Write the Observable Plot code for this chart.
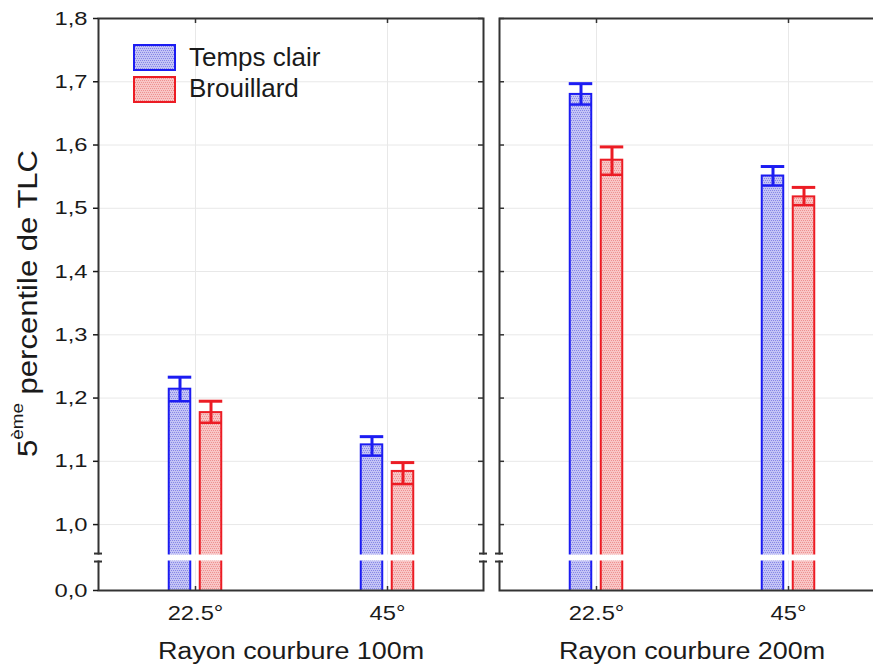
<!DOCTYPE html>
<html><head><meta charset="utf-8">
<script src="https://cdn.jsdelivr.net/npm/d3@7"></script>
<script src="https://cdn.jsdelivr.net/npm/@observablehq/plot@0.6"></script>
<style>
html,body{margin:0;padding:0;background:#fff;overflow:hidden;}
#chart{width:873px;height:667px;overflow:hidden;position:relative;}
#chart svg{max-width:none !important;}
</style></head><body>
<svg width="0" height="0" style="position:absolute">
<defs>
<pattern id="hatchBlue" width="4" height="4" patternUnits="userSpaceOnUse">
<rect width="4" height="4" fill="#c4c4f5"/>
<rect x="0" y="0" width="1" height="1" fill="#8686e6"/>
<rect x="2" y="0" width="1" height="1" fill="#8686e6"/>
<rect x="1" y="2" width="1" height="1" fill="#8686e6"/>
<rect x="3" y="2" width="1" height="1" fill="#8686e6"/>
</pattern>
<pattern id="hatchRed" width="4" height="4" patternUnits="userSpaceOnUse">
<rect width="4" height="4" fill="#f8c6c6"/>
<rect x="0" y="0" width="1" height="1" fill="#ee9090"/>
<rect x="2" y="0" width="1" height="1" fill="#ee9090"/>
<rect x="1" y="2" width="1" height="1" fill="#ee9090"/>
<rect x="3" y="2" width="1" height="1" fill="#ee9090"/>
</pattern>
</defs></svg>
<div id="chart"></div>
<script>
// ---- data ----
const radii = ["Rayon courbure 100m", "Rayon courbure 200m"];
const angles = ["22.5°", "45°"];
const seriesNames = ["Temps clair", "Brouillard"];
const seriesStroke = ["#1c1cf2", "#ec1c24"];
const seriesFill = ["url(#hatchBlue)", "url(#hatchRed)"];
// order of cells: 100m 22.5°, 100m 45°, 200m 22.5°, 200m 45°
const clairBoxTop = [1.214, 1.126, 1.680, 1.551];
const clairBoxLow = [1.195, 1.109, 1.664, 1.536];
const clairWhiskerHi = [1.233, 1.139, 1.697, 1.566];
const brouBoxTop = [1.177, 1.084, 1.576, 1.518];
const brouBoxLow = [1.161, 1.064, 1.553, 1.505];
const brouWhiskerHi = [1.195, 1.098, 1.597, 1.533];
// broken axis: bottom of the axis stands for 0,0
const yTickValues = [0.8958, 1.0, 1.1, 1.2, 1.3, 1.4, 1.5, 1.6, 1.7, 1.8];
const yTickLabels = ["0,0", "1,0", "1,1", "1,2", "1,3", "1,4", "1,5", "1,6", "1,7", "1,8"];
const yBreak = 0.948;
const yBreakMarks = [0.9542, 0.9416];

// ---- layout ----
const W = 886, H = 667, mL = 98, mR = 2, mT = 18, mB = 77, facetGap = 16;
const facetW = (W - mL - mR - facetGap) / radii.length;
const innerH = H - mT - mB;
const bandW = facetW / angles.length;
const barW = 22, barGap = 9, capW = 24;
const off = (barW + barGap) / 2;
const axisColor = "#333";
const gridColor = "#e8e8e8";

const cells = radii.flatMap(r => angles.map(a => ({r, a})));
const seriesData = [
  cells.map((c, i) => ({...c, top: clairBoxTop[i], low: clairBoxLow[i], hi: clairWhiskerHi[i]})),
  cells.map((c, i) => ({...c, top: brouBoxTop[i], low: brouBoxLow[i], hi: brouWhiskerHi[i]}))
];
const yLabelOf = new Map(yTickValues.map((v, i) => [v, yTickLabels[i]]));

const seriesMarks = seriesData.flatMap((data, s) => {
  const sign = s === 0 ? -1 : 1;
  const c = bandW / 2 + sign * off;
  const bL = c - barW / 2, bR = bandW - c - barW / 2;
  const cL = c - capW / 2, cR = bandW - c - capW / 2;
  const stroke = seriesStroke[s];
  return [
    Plot.barY(data, {fx: "r", x: "a", y1: 0, y2: "top", insetLeft: bL, insetRight: bR,
      fill: seriesFill[s], stroke, strokeWidth: 2, clip: true}),
    Plot.tickY(data, {fx: "r", x: "a", y: "low", insetLeft: bL, insetRight: bR, stroke, strokeWidth: 2.5}),
    Plot.ruleX(data, {fx: "r", x: "a", y1: "low", y2: "hi", dx: sign * off, stroke, strokeWidth: 3}),
    Plot.tickY(data, {fx: "r", x: "a", y: "hi", insetLeft: cL, insetRight: cR, stroke, strokeWidth: 3})
  ];
});

const innerTicks = yTickValues.slice(1);

const svg = Plot.plot({
  width: W, height: H,
  marginLeft: mL, marginRight: mR, marginTop: mT, marginBottom: mB,
  style: {fontFamily: "'Liberation Sans', Arial, sans-serif", fontSize: "19px", color: "#1a1a1a", background: "#fff", maxWidth: "none"},
  fx: {domain: radii, paddingInner: facetGap / (facetW + facetGap), paddingOuter: 0},
  x: {domain: angles, padding: 0},
  y: {domain: [yTickValues[0], yTickValues[yTickValues.length - 1]]},
  marks: [
    Plot.ruleY(innerTicks, {stroke: gridColor, strokeWidth: 1}),
    Plot.ruleX(angles, {x: d => d, stroke: gridColor, strokeWidth: 1}),
    ...seriesMarks,
    Plot.frame({stroke: axisColor, strokeWidth: 2}),
    Plot.ruleY([yBreak], {stroke: "#fff", strokeWidth: 6, insetLeft: -4, insetRight: -4}),
    Plot.ruleY(yBreakMarks, {stroke: axisColor, strokeWidth: 2, insetLeft: -4, insetRight: facetW - 4}),
    Plot.ruleY(yBreakMarks, {stroke: axisColor, strokeWidth: 2, insetLeft: facetW - 4, insetRight: -4}),
    Plot.ruleY(innerTicks.map(v => ({v, r: radii[0]})), {y: "v", fx: "r", insetLeft: facetW - 5, stroke: axisColor, strokeWidth: 1.5}),
    Plot.ruleY(innerTicks.map(v => ({v, r: radii[1]})), {y: "v", fx: "r", insetRight: facetW - 5, stroke: axisColor, strokeWidth: 1.5}),
    Plot.ruleX(angles, {x: d => d, insetBottom: innerH - 5, stroke: axisColor, strokeWidth: 1.5}),
    Plot.ruleX(angles, {x: d => d, insetTop: innerH - 4, stroke: axisColor, strokeWidth: 1.5}),
    Plot.axisY({ticks: yTickValues, tickFormat: d => yLabelOf.get(d), tickSize: 5, tickPadding: 6, fontSize: 19, label: null, strokeWidth: 1.5}),
    Plot.axisX({anchor: "bottom", tickSize: 0, tickPadding: 15, fontSize: 21, label: null}),
    Plot.axisFx({anchor: "bottom", tickSize: 0, tickPadding: 52, fontSize: 23, label: null})
  ]
});
document.getElementById("chart").appendChild(svg);

const root = d3.select(svg);

// legend
const lg = root.append("g").attr("class", "legend").attr("text-anchor", "start");
seriesNames.forEach((name, i) => {
  lg.append("rect").attr("x", 134).attr("y", 45 + i * 32).attr("width", 41).attr("height", 25)
    .attr("fill", seriesFill[i]).attr("stroke", seriesStroke[i]).attr("stroke-width", 2);
  lg.append("text").attr("x", 189).attr("y", 66 + i * 31).attr("font-size", 26)
    .attr("text-anchor", "start").attr("fill", "#1a1a1a").text(name);
});

// y title with superscript
const yt = root.append("text")
  .attr("transform", "translate(37,303.5) rotate(-90)")
  .attr("text-anchor", "middle").attr("font-size", 28).attr("fill", "#1a1a1a");
yt.append("tspan").text("5");
yt.append("tspan").attr("font-size", 17).attr("dy", -14).text("ème");
yt.append("tspan").attr("dy", 14).text(" percentile de TLC");
yt.attr("textLength", 307).attr("lengthAdjust", "spacingAndGlyphs");

function stretch(sel, factor) {
  sel.each(function () {
    const w = this.getComputedTextLength();
    if (w > 0) {
      this.setAttribute("textLength", w * factor);
      this.setAttribute("lengthAdjust", "spacingAndGlyphs");
    }
  });
}
stretch(root.selectAll('g[aria-label="y-axis tick label"] text'), 1.25);
stretch(root.selectAll('g[aria-label="x-axis tick label"] text'), 1.13);
stretch(root.selectAll('g[aria-label="fx-axis tick label"] text'), 1.17);
</script>
</body></html>
